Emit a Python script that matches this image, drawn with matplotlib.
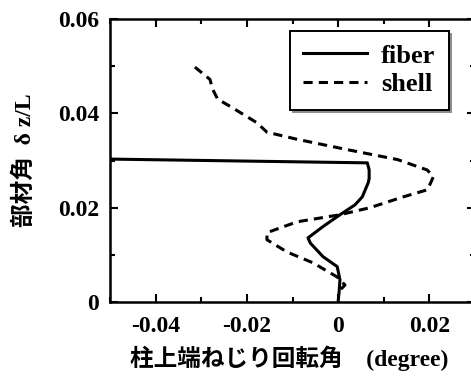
import matplotlib
matplotlib.use("Agg")
import matplotlib.pyplot as plt
from matplotlib.ticker import MultipleLocator

# torsion angle at column top (degree) vs member position (delta z / L)
fiber_x = [-0.050, 0.0064, 0.0068, 0.0068, 0.0066, 0.0053, 0.0037, -0.0002,
           -0.0033, -0.0066, -0.0061, -0.0033, -0.0002, 0.0004, 0.0002, 0.0]
fiber_y = [0.0303, 0.0295, 0.0280, 0.0262, 0.0253, 0.0223, 0.0206, 0.0181,
           0.0160, 0.0136, 0.0125, 0.0096, 0.0075, 0.0047, 0.0020, 0.0]

shell_x = [-0.0314, -0.0281, -0.0275, -0.0264, -0.0237, -0.0178, -0.0156, -0.0090,
           0.0020, 0.0130, 0.0195, 0.0209, 0.0196, 0.0143, 0.0070, 0.0004,
           -0.0090, -0.0156, -0.0156, -0.0112, -0.0055, -0.0002, 0.0015, 0.0004]
shell_y = [0.0498, 0.0472, 0.0451, 0.0430, 0.0415, 0.0380, 0.0360, 0.0345,
           0.0323, 0.0302, 0.0280, 0.0266, 0.0238, 0.0223, 0.0200, 0.0185,
           0.0170, 0.0147, 0.0132, 0.0106, 0.0083, 0.0053, 0.0036, 0.0025]

xticks = [-0.04, -0.02, 0.0, 0.02]
xtick_labels = ['-0.04', '-0.02', '0', '0.02']
yticks = [0.0, 0.02, 0.04, 0.06]
ytick_labels = ['0', '0.02', '0.04', '0.06']

serif = ['Liberation Serif', 'Noto Sans CJK JP', 'DejaVu Sans']
plt.rcParams['font.family'] = serif
plt.rcParams['font.weight'] = 'bold'

fig = plt.figure(figsize=(4.71, 3.79), dpi=100)
ax = fig.add_axes([110 / 471, 1 - 302 / 379, 365 / 471, 283 / 379])

ax.plot(fiber_x, fiber_y, '-k', lw=2.2, label='fiber')
ax.plot(shell_x, shell_y, '--k', lw=2.2, dashes=(3.0, 2.0), label='shell')

ax.set_xlim(-0.05, 0.03)
ax.set_ylim(0, 0.06)
ax.set_xticks(xticks)
ax.set_xticklabels(xtick_labels)
ax.set_yticks(yticks)
ax.set_yticklabels(ytick_labels)
ax.xaxis.set_minor_locator(MultipleLocator(0.01))
ax.yaxis.set_minor_locator(MultipleLocator(0.01))
ax.tick_params(which='both', direction='in', top=True, right=True, width=1.5)
ax.tick_params(which='major', length=6, labelsize=17, pad=8)
ax.tick_params(which='minor', length=3.5)
ax.tick_params(axis='x', which='major', pad=10)
for lab in ax.get_xticklabels() + ax.get_yticklabels():
    lab.set_fontweight('bold')
for sp in ax.spines.values():
    sp.set_linewidth(1.8)

ax.set_xlabel('柱上端ねじり回転角　(degree)', fontsize=17, fontweight='bold')
ax.xaxis.set_label_coords((289 - 110) / 365, -(358 - 302) / 283)
ax.xaxis.label.set_va('center')
ax.set_ylabel('部材角  δ z/L', fontsize=17, fontweight='bold')
ax.yaxis.set_label_coords(-(110 - 25) / 365, (302 - 160) / 283)
ax.yaxis.label.set_va('center')

leg = ax.legend(loc='upper left', bbox_to_anchor=((290 - 110) / 365, 1 - (31 - 19) / 283),
                frameon=True, fancybox=False, shadow={'color': '0.55', 'alpha': 1},
                edgecolor='black', borderpad=0.5, handlelength=2.4, handletextpad=0.55,
                labelspacing=0.2, borderaxespad=0,
                prop={'size': 19, 'weight': 'bold'})
leg.get_frame().set_linewidth(1.4)

fig.savefig('out.png', dpi=100)
